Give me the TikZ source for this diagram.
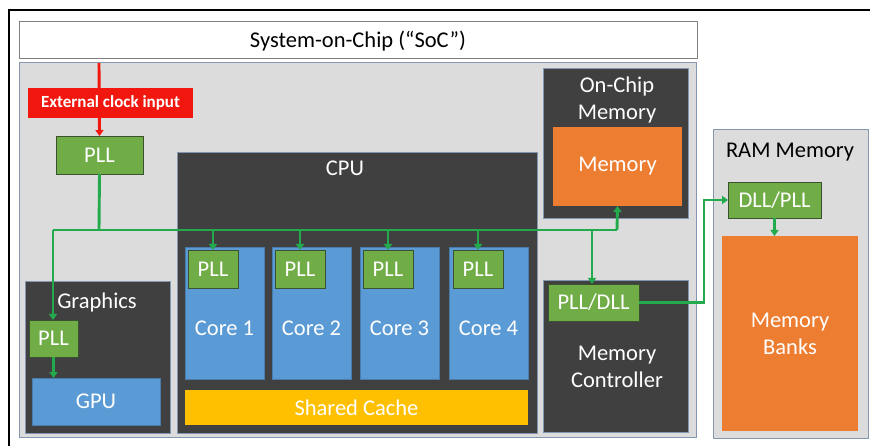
\documentclass[tikz,border=0pt]{standalone}
\usepackage{fontspec}
\setmainfont{Carlito}
\usetikzlibrary{arrows.meta}
\definecolor{socgray}{HTML}{DCDCDC}
\definecolor{socedge}{HTML}{8497B0}
\definecolor{darkbox}{HTML}{404040}
\definecolor{bluebox}{HTML}{5B9BD5}
\definecolor{orangebox}{HTML}{ED7D31}
\definecolor{yellowbox}{HTML}{FFC000}
\definecolor{greenbox}{HTML}{70AD47}
\definecolor{greenedge}{HTML}{3A5230}
\definecolor{wire}{HTML}{22AA4C}
\definecolor{clkred}{HTML}{F2170E}
\definecolor{titleedge}{HTML}{7F7F7F}
\tikzset{
  every node/.style={inner sep=0pt, outer sep=0pt, anchor=north west},
  sz/.style 2 args={minimum width=#1pt, minimum height=#2pt},
  body/.style={font=\fontsize{22.5}{27}\selectfont, align=center},
  lbl/.style={body, anchor=center, text=white},
  darkblk/.style={fill=darkbox, draw=socedge, line width=0.8pt},
  greenblk/.style={fill=greenbox, draw=greenedge, line width=0.8pt, body, text=white},
  blueblk/.style={fill=bluebox, draw=bluebox!80!black, line width=0.5pt, body, text=white},
  orangeblk/.style={fill=orangebox, body, text=white},
  wireline/.style={draw=wire, line width=2.9pt},
  wirearrow/.style={wireline, -{Triangle[length=6pt,width=8pt]}},
}
\begin{document}
\begin{tikzpicture}[x=1pt, y=-1pt]
\useasboundingbox (0,0) rectangle (870,446);
% outer frame
\draw[black, line width=1.6pt] (9,10) rectangle (880,456);
% title
\node[fill=white, draw=titleedge, line width=1pt, sz={678}{37}] (title) at (19,22) {};
\node[body, anchor=center, text=black] (titletxt) at (358,41) {System-on-Chip (“SoC”)};
% SoC area
\node[fill=socgray, draw=socedge, line width=1pt, sz={677}{374}] (soc) at (19,63) {};
\coordinate (clkin) at (99,63);
% top PLL
\node[greenblk, sz={87}{38}] (pll0) at (56,136) {};
\node[lbl] at (pll0.center) {PLL};
% red clock line
\draw[draw=clkred, line width=2.9pt, -{Triangle[length=6pt,width=8pt]}] (clkin) -- (pll0.north);
\node[fill=clkred, sz={165}{30}] (ext) at (28,88) {};
\node[anchor=center, text=white, font=\fontsize{17}{20}\selectfont\bfseries] (exttxt) at (ext.center) {External clock input};
% Graphics
\node[darkblk, sz={145}{152}] (gfx) at (25,281) {};
\node[lbl] (gfxtxt) at (97,303) {Graphics};
\node[greenblk, sz={49}{37}] (gpll) at (29,320) {};
\node[lbl] at (gpll.center) {PLL};
\node[blueblk, sz={128}{47}] (gpu) at (32,378) {};
\node[lbl] at (gpu.center) {GPU};
% CPU
\node[darkblk, sz={360}{281}] (cpu) at (177,152) {};
\node[lbl] (cputxt) at (345,168) {CPU};
\foreach \i/\x in {1/185,2/272,3/360,4/449}{
  \node[blueblk, sz={79}{132}] (core\i) at (\x,247) {};
  \node[lbl] (coretxt\i) at ([yshift=-81pt]core\i.north) {Core \i};
}
\foreach \i/\x in {1/188,2/275,3/363,4/453}{
  \node[greenblk, sz={50}{38}] (cpll\i) at (\x,250) {};
  \node[lbl] at (cpll\i.center) {PLL};
}
\node[fill=yellowbox, sz={343}{35}] (cache) at (185,390) {};
\node[lbl] at (cache.center) {Shared Cache};
% On-chip memory
\node[darkblk, sz={145}{150}] (onchip) at (543,68) {};
\node[lbl] (onchiptxt) at (617,100) {On-Chip\\Memory};
\node[orangeblk, sz={129}{79}] (mem) at (553,127) {};
\node[lbl] at (mem.center) {Memory};
% memory controller
\node[darkblk, sz={145}{152}] (memctl) at (543,280) {};
\node[lbl] (memctltxt) at (617,367) {Memory\\Controller};
\node[greenblk, sz={91}{37}] (plldll) at (548,284) {};
\node[lbl] at (plldll.center) {PLL/DLL};
% RAM
\node[fill=socgray, draw=socedge, line width=1pt, sz={155}{308}] (ram) at (713,130) {};
\node[body, anchor=center, text=black] (ramtxt) at (790,152) {RAM Memory};
\node[greenblk, sz={93}{36}] (dllpll) at (728,182) {};
\node[lbl] at (dllpll.center) {DLL/PLL};
\node[orangeblk, sz={136}{195}] (banks) at (722,236) {};
\node[lbl] (bankstxt) at (790,334) {Memory\\Banks};
% clock wires
\coordinate (busL) at (53,230);
\coordinate (busT) at (99,230);
\coordinate (busR) at (617,230);
\coordinate (busM) at (592,230);
\draw[wireline] (pll0.south) -- (busT);
\draw[wireline, line join=miter] (busL) -- (busR);
\draw[wirearrow] (busL) -- (busL |- gpll.north);
\draw[wirearrow] (gpll.south) -- (gpll.south |- gpu.north);
\foreach \i in {1,2,3,4}{
  \draw[wirearrow] (busL -| cpll\i.north) -- (cpll\i.north);
}
\draw[wirearrow] (busR) -- (mem.south);
\draw[wirearrow] (busM) -- (busM |- plldll.north);
\draw[wirearrow] (plldll.east) -- ++(65,0) |- (dllpll.west);
\draw[wirearrow] (dllpll.south) -- (dllpll.south |- banks.north);
\end{tikzpicture}
\end{document}
